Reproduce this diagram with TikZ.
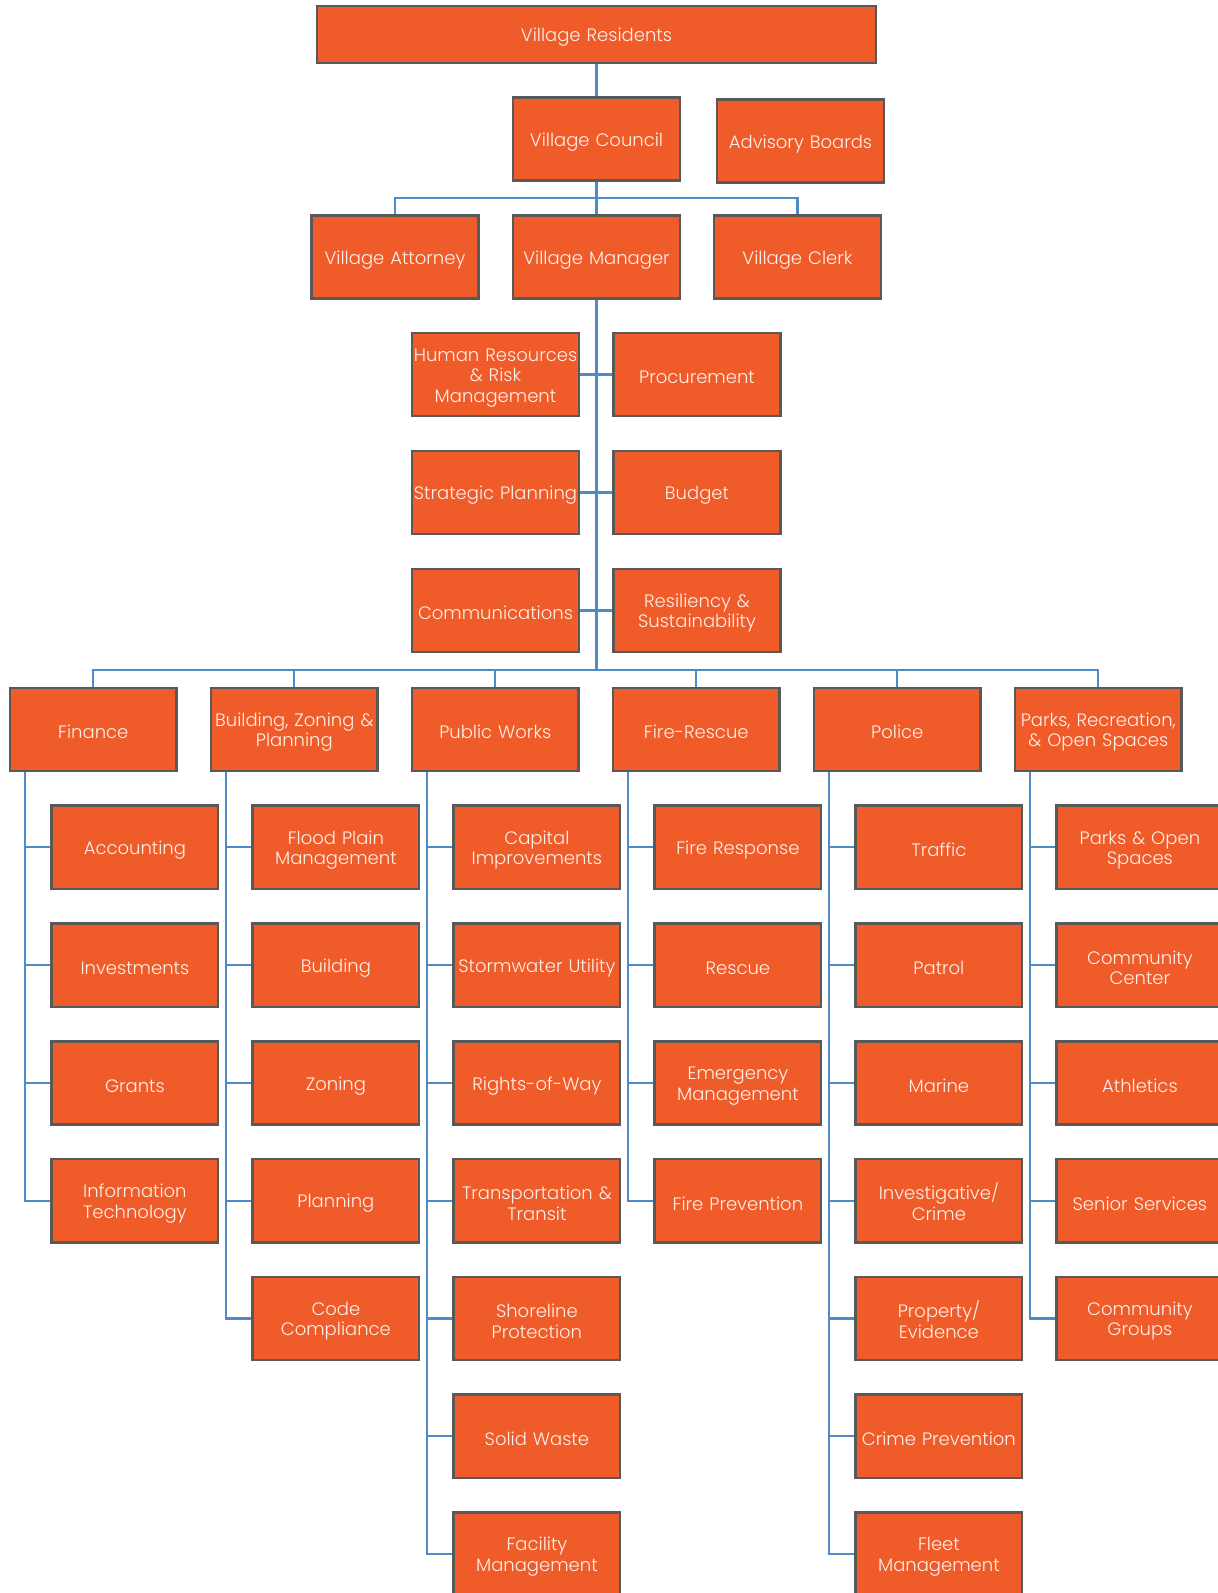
\documentclass[tikz,border=0pt]{standalone}
\usepackage{fontspec}
\setmainfont{Poppins Light}
\definecolor{boxfill}{RGB}{240,91,42}
\definecolor{boxline}{RGB}{89,89,89}
\definecolor{connc}{RGB}{79,139,198}
\definecolor{textc}{RGB}{255,240,232}
\tikzset{
  orgbox/.style={draw=boxline,line width=2.5pt,fill=boxfill,text=textc,
    minimum width=166.6pt,minimum height=83.3pt,inner sep=0pt,text width=166pt,
    align=center,text height=19pt,font=\fontsize{18}{20.5}\selectfont},
  conn/.style={draw=connc,line width=2.2pt},
}
\begin{document}
\begin{tikzpicture}[x=1pt,y=-1pt]
\useasboundingbox (0,0) rectangle (1218,1593);
% top tier
\node[orgbox,minimum width=559pt,minimum height=57pt,text width=500pt] (VR) at (596.5,34.5) {Village Residents};
\node[orgbox] (VC) at (596.5,139) {Village Council};
\node[orgbox] (AB) at (800.5,141) {Advisory Boards};
\node[orgbox] (VA) at (395,257) {Village Attorney};
\node[orgbox] (VM) at (596.5,257) {Village Manager};
\node[orgbox] (VCl) at (797.5,257) {Village Clerk};
\coordinate (cb) at (596.5,198);
\coordinate (db) at (596.5,670);
\draw[conn] (VR.south) -- (VC.north);
\draw[conn] (VC.south) -- (cb);
\draw[conn] (cb) -| (VA.north);
\draw[conn] (cb) -| (VCl.north);
\draw[conn] (cb) -- (VM.north);
% staff
\node[orgbox] (HR) at (495.5,374.5) {Human Resources\\\& Risk\\Management};
\node[orgbox] (PR) at (697,374.5) {Procurement};
\node[orgbox] (SP) at (495.5,492.5) {Strategic Planning};
\node[orgbox] (BU) at (697,492.5) {Budget};
\node[orgbox] (CO) at (495.5,610.5) {Communications};
\node[orgbox] (RS) at (697,610.5) {Resiliency \&\\Sustainability};
\draw[conn] (VM.south) -- (db);
\draw[conn] (HR.east) -- (PR.west);
\draw[conn] (SP.east) -- (BU.west);
\draw[conn] (CO.east) -- (RS.west);
% departments
\node[orgbox] (D1) at (93.3,729.5) {Finance};
\node[orgbox] (D2) at (294.3,729.5) {Building, Zoning \&\\Planning};
\node[orgbox] (D3) at (495.3,729.5) {Public Works};
\node[orgbox] (D4) at (696.3,729.5) {Fire-Rescue};
\node[orgbox] (D5) at (897.3,729.5) {Police};
\node[orgbox] (D6) at (1098.3,729.5) {Parks, Recreation,\\\& Open Spaces};
\foreach \d in {D1,D2,D3,D4,D5,D6} {\draw[conn] (db) -| (\d.north);}
% sub units
\foreach \t [count=\i] in {Accounting,Investments,Grants,{Information\\Technology}} {
  \node[orgbox] (F\i) at (134.9,{847.3+117.8*(\i-1)}) {\t};
  \draw[conn] ([xshift=16.4pt]D1.south west) |- (F\i.west);}
\foreach \t [count=\i] in {{Flood Plain\\Management},Building,Zoning,Planning,{Code\\Compliance}} {
  \node[orgbox] (B\i) at (335.9,{847.3+117.8*(\i-1)}) {\t};
  \draw[conn] ([xshift=16.4pt]D2.south west) |- (B\i.west);}
\foreach \t [count=\i] in {{Capital\\Improvements},Stormwater Utility,Rights-of-Way,{Transportation \&\\Transit},{Shoreline\\Protection},Solid Waste,{Facility\\Management}} {
  \node[orgbox] (P\i) at (536.9,{847.3+117.8*(\i-1)}) {\t};
  \draw[conn] ([xshift=16.4pt]D3.south west) |- (P\i.west);}
\foreach \t [count=\i] in {Fire Response,Rescue,{Emergency\\Management},Fire Prevention} {
  \node[orgbox] (R\i) at (737.9,{847.3+117.8*(\i-1)}) {\t};
  \draw[conn] ([xshift=16.4pt]D4.south west) |- (R\i.west);}
\foreach \t [count=\i] in {Traffic,Patrol,Marine,{Investigative/\\Crime},{Property/\\Evidence},Crime Prevention,{Fleet\\Management}} {
  \node[orgbox] (L\i) at (938.9,{847.3+117.8*(\i-1)}) {\t};
  \draw[conn] ([xshift=16.4pt]D5.south west) |- (L\i.west);}
\foreach \t [count=\i] in {{Parks \& Open\\Spaces},{Community\\Center},Athletics,Senior Services,{Community\\Groups}} {
  \node[orgbox] (K\i) at (1139.9,{847.3+117.8*(\i-1)}) {\t};
  \draw[conn] ([xshift=16.4pt]D6.south west) |- (K\i.west);}
\end{tikzpicture}
\end{document}
